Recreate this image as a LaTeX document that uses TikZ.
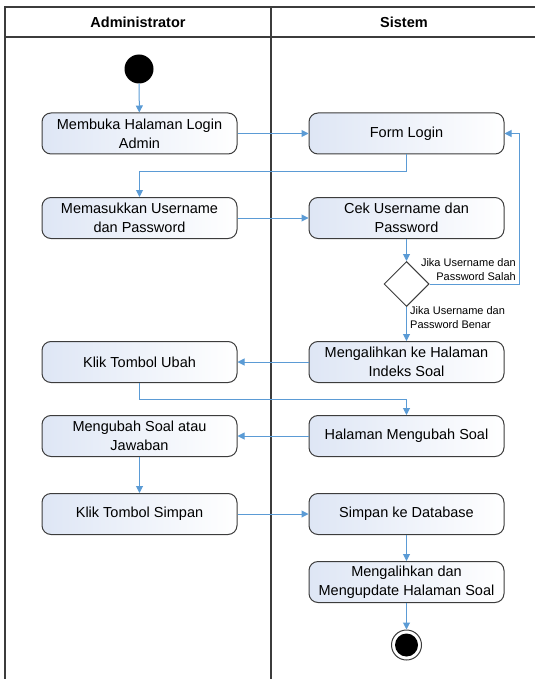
\documentclass[tikz,border=0pt]{standalone}
\usepackage{fontspec}
\setmainfont{Liberation Sans}
\usetikzlibrary{shapes.geometric,arrows.meta}
\definecolor{flowblue}{RGB}{91,155,213}
\definecolor{frameg}{RGB}{60,60,60}
\definecolor{boxshade}{RGB}{222,230,245}
\tikzset{
  act/.style={draw=frameg, line width=1pt, rounded corners=9pt, left color=boxshade, right color=white,
    minimum width=195pt, minimum height=41pt, align=center, inner sep=2pt,
    font=\fontsize{14.5}{19}\selectfont},
  flow/.style={draw=flowblue, line width=1pt, -{Triangle[width=7pt,length=7pt]}},
  lane/.style={draw=frameg, line width=1.6pt},
  hdr/.style={font=\bfseries\fontsize{14.5}{17}\selectfont},
  guard/.style={font=\fontsize{11}{14}\selectfont, inner sep=0pt},
  dec/.style={diamond, draw=frameg, line width=1pt, fill=white, inner sep=0pt, minimum width=45pt, minimum height=45pt}
}
\begin{document}
\begin{tikzpicture}[x=1pt,y=-1pt]
\useasboundingbox (0,0) rectangle (535,679);
% swimlane frame
\draw[lane] (5,679) -- (5,7) -- (535,7);
\draw[lane] (5,37) -- (535,37);
\draw[lane] (271,7) -- (271,679);
\node[hdr] (h1) at (138,22) {Administrator};
\node[hdr] (h2) at (404,22) {Sistem};
% nodes
\node[circle, fill=black, minimum size=29pt, inner sep=0pt] (start) at (139,69) {};
\node[act] (b1) at (139.5,133.5) {Membuka Halaman Login\\Admin};
\node[act] (fl) at (406.5,133.5) {Form Login};
\node[act] (b2) at (139.5,218) {Memasukkan Username\\dan Password};
\node[act] (cek) at (406.5,218) {Cek Username dan\\Password};
\node[dec] (dia) at (406.5,284) {};
\node[act] (ma) at (406.5,362) {Mengalihkan ke Halaman\\Indeks Soal};
\node[act] (ku) at (139.5,362) {Klik Tombol Ubah};
\node[act] (hm) at (406.5,436) {Halaman Mengubah Soal};
\node[act] (mj) at (139.5,436) {Mengubah Soal atau\\Jawaban};
\node[act] (ks) at (139.5,514) {Klik Tombol Simpan};
\node[act] (sd) at (406.5,514) {Simpan ke Database};
\node[act] (mu) at (406.5,582) {Mengalihkan dan\\Mengupdate Halaman Soal};
\node[circle, draw=frameg, line width=1pt, fill=white, minimum size=30pt, inner sep=0pt] (end) at (406.5,645) {};
\node[circle, fill=black, minimum size=23pt, inner sep=0pt] (endin) at (end.center) {};
\coordinate (s1) at (519,284);
% guards
\node[guard, anchor=east, align=right] (g1) at (516,270) {Jika Username dan\\Password Salah};
\node[guard, anchor=west, align=left] (g2) at (410,317.5) {Jika Username dan\\Password Benar};
% connectors
\draw[flow] (start) -- (b1);
\draw[flow] (b1) -- (fl);
\draw[flow] (fl.south) -- ++(0,17) -| (b2.north);
\draw[flow] (b2) -- (cek);
\draw[flow] (cek) -- (dia);
\draw[flow] (dia.east) -- (s1) |- (fl.east);
\draw[flow] (dia) -- (ma);
\draw[flow] (ma) -- (ku);
\draw[flow] (ku.south) -- ++(0,16) -| (hm.north);
\draw[flow] (hm) -- (mj);
\draw[flow] (mj) -- (ks);
\draw[flow] (ks) -- (sd);
\draw[flow] (sd) -- (mu);
\draw[flow] (mu) -- (end);
\end{tikzpicture}
\end{document}
